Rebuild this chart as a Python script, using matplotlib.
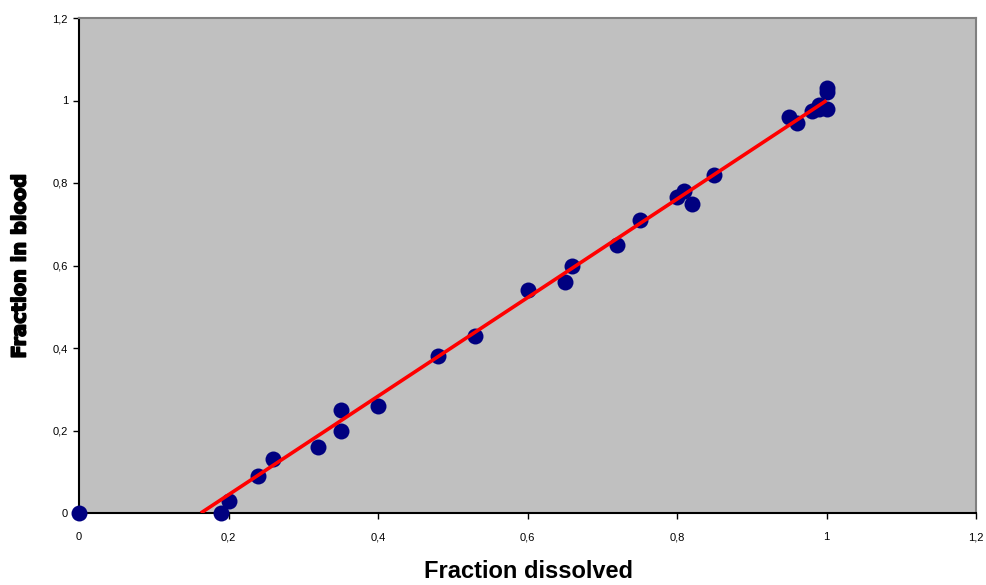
import matplotlib
matplotlib.use("Agg")
from matplotlib import pyplot as plt
from matplotlib import patheffects
from matplotlib.ticker import FuncFormatter

# measured points (fraction dissolved vs fraction in blood)
dissolved = [0.0, 0.19, 0.20, 0.24, 0.26, 0.32, 0.35, 0.35, 0.40, 0.48,
             0.53, 0.60, 0.65, 0.66, 0.72, 0.75, 0.80, 0.81, 0.82, 0.85,
             0.95, 0.96, 0.98, 0.99, 1.00, 1.00, 1.00, 0.99]
in_blood = [0.0, 0.0, 0.03, 0.09, 0.13, 0.16, 0.20, 0.25, 0.26, 0.38,
            0.43, 0.54, 0.56, 0.60, 0.65, 0.71, 0.765, 0.78, 0.75, 0.82,
            0.96, 0.945, 0.975, 0.99, 1.03, 1.02, 0.98, 0.98]

# fitted line end points
fit_x = [0.163, 1.0]
fit_y = [0.0, 1.0]

ticks = [0, 0.2, 0.4, 0.6, 0.8, 1.0, 1.2]

plt.rcParams["font.family"] = ["Liberation Sans", "DejaVu Sans"]

fig = plt.figure(figsize=(9.86, 5.85), dpi=100)
ax = fig.add_axes([79 / 986, 1 - 513 / 585, (976 - 79) / 986, (513 - 18) / 585])
ax.set_facecolor("#c0c0c0")

ax.plot(dissolved, in_blood, "o", color="#000080", markersize=11.5,
        markeredgewidth=0, clip_on=False, zorder=3)
ax.plot(fit_x, fit_y, color="#ff0000", linewidth=2.6, zorder=4,
        solid_capstyle="butt")

ax.set_xlim(0, 1.2)
ax.set_ylim(0, 1.2)
ax.set_xticks(ticks)
ax.set_yticks(ticks)

fmt = FuncFormatter(lambda v, pos: f"{v:g}".replace(".", ","))
ax.xaxis.set_major_formatter(fmt)
ax.yaxis.set_major_formatter(fmt)

ax.tick_params(axis="both", direction="out", length=4, width=1,
               labelsize=8, colors="black")
ax.tick_params(axis="x", pad=10)
ax.tick_params(axis="y", pad=4)

for side in ("top", "right"):
    ax.spines[side].set_color("#808080")
    ax.spines[side].set_linewidth(1.5)
for side in ("bottom", "left"):
    ax.spines[side].set_color("black")
    ax.spines[side].set_linewidth(1.5)

fig.text(528 / 986, 1 - 572 / 585, "Fraction dissolved", ha="center",
         va="center", fontsize=17, fontweight="bold")
fig.text(20 / 986, 1 - 266 / 585, "Fraction in blood", rotation=90,
         ha="center", va="center", fontsize=14, fontweight="bold",
         family="DejaVu Sans",
         path_effects=[patheffects.withStroke(linewidth=1.2, foreground="black")])

fig.savefig("out.png", dpi=100)
